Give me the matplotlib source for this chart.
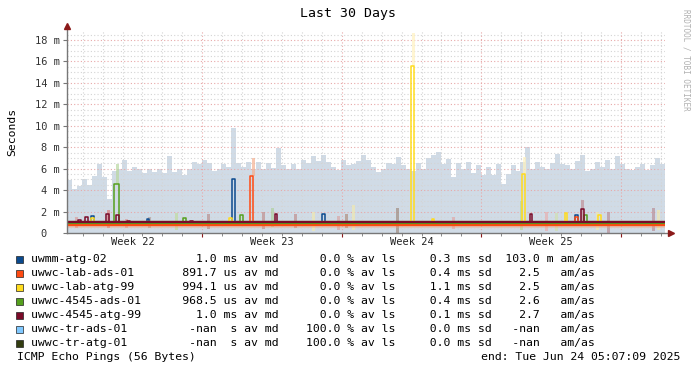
import numpy as np
import matplotlib.pyplot as plt
from matplotlib.patches import Rectangle

plt.rcParams['font.family'] = 'DejaVu Sans Mono'

# time axis: days since start (30 days ending Tue Jun 24 05:07:09 2025)
first_midnight = 0.786
week_starts = [6.786, 13.786, 20.786, 27.786]
week_centers = [3.286, 10.286, 17.286, 24.286]
week_labels = ['Week 22', 'Week 23', 'Week 24', 'Week 25']

# background smoke envelope in ms, 4 samples per day
envelope = [4.9, 4.1, 4.4, 5.0, 4.5, 5.3, 6.4, 5.2, 3.2, 5.8,
            6.0, 6.8, 5.8, 6.2, 6.0, 5.6, 6.0, 5.7, 6.0, 5.6,
            7.2, 5.7, 6.0, 5.4, 6.0, 6.6, 6.4, 6.8, 6.5, 5.8,
            6.0, 6.4, 6.2, 9.8, 6.5, 6.2, 6.6, 6.0, 6.6, 6.0,
            6.5, 6.1, 7.9, 6.3, 6.0, 6.4, 6.0, 6.8, 6.5, 7.2,
            6.7, 7.3, 6.6, 6.2, 5.9, 6.8, 6.3, 6.4, 6.7, 7.3,
            6.8, 6.2, 5.7, 6.0, 6.5, 6.4, 7.1, 6.3, 6.0, 5.8,
            6.5, 6.0, 7.0, 7.3, 7.6, 6.4, 6.9, 5.2, 6.5, 6.0,
            6.6, 5.6, 6.3, 5.4, 6.2, 5.4, 6.4, 4.6, 5.5, 6.3,
            5.8, 6.6, 8.0, 6.0, 6.6, 6.2, 6.0, 6.5, 7.4, 6.4,
            6.3, 6.0, 6.7, 7.3, 5.8, 6.0, 6.6, 6.2, 6.8, 6.0,
            7.2, 6.4, 6.0, 5.9, 6.2, 6.4, 5.9, 6.3, 7.0, 6.4]

hosts = ['uwmm-atg-02', 'uwwc-lab-ads-01', 'uwwc-lab-atg-99', 'uwwc-4545-ads-01',
         'uwwc-4545-atg-99', 'uwwc-tr-ads-01', 'uwwc-tr-atg-01']
colors = ['#0b4a8e', '#ff4a12', '#ffdc1e', '#55a01e', '#7a0a28', '#80c8ff', '#333d10']
base_ms = [1.02, 0.86, 0.98, 0.95, 1.05, None, None]
avg = ['1.0', '891.7', '994.1', '968.5', '1.0', '-nan', '-nan']
avg_unit = ['ms', 'us', 'us', 'us', 'ms', ' s', ' s']
loss = ['0.0', '0.0', '0.0', '0.0', '0.0', '100.0', '100.0']
sd = ['0.3', '0.4', '1.1', '0.4', '0.1', '0.0', '0.0']
amas = ['103.0', '2.5', '2.5', '2.6', '2.7', '-nan', '-nan']
amas_unit = ['m', ' ', ' ', ' ', ' ', ' ', ' ']

# median spikes per host: (day, width, ms)
spikes = [
    [(1.22, 0.15, 1.6), (4.0, 0.12, 1.3), (8.26, 0.16, 5.0), (12.8, 0.12, 1.75), (25.5, 0.15, 1.65)],
    [(9.16, 0.17, 5.35), (25.49, 0.15, 1.5)],
    [(1.22, 0.15, 1.4), (8.15, 0.15, 1.4), (17.25, 0.17, 15.6), (18.3, 0.12, 1.3),
     (22.81, 0.17, 5.5), (24.98, 0.12, 1.9), (26.62, 0.15, 1.7)],
    [(2.36, 0.24, 4.6), (5.82, 0.15, 1.4), (8.66, 0.15, 1.7), (25.95, 0.15, 1.7)],
    [(0.55, 0.15, 1.25), (0.9, 0.15, 1.5), (1.96, 0.15, 1.75), (2.46, 0.15, 1.7),
     (3.0, 0.15, 1.15), (6.17, 0.15, 1.1), (10.44, 0.12, 1.8), (23.23, 0.12, 1.8), (25.78, 0.17, 2.2)],
    [], [],
]

# translucent smoke strips: (day, lo ms, hi ms, colour)
strips = [(0.4, 0.5, 1.5, '#d8a0a0'), (2.0, 0.5, 2.1, '#d98080'), (2.45, 4.6, 6.4, '#b8d8a0'),
          (2.9, 0.5, 1.3, '#d8a0a0'), (4.06, 0.5, 1.5, '#b0a0a0'), (5.4, 0.3, 1.9, '#c0dca0'),
          (7.0, 0.4, 1.8, '#b89090'), (9.28, 5.3, 7.0, '#f4b090'), (9.8, 0.4, 2.0, '#c09090'),
          (10.24, 0.6, 2.3, '#b0d0a0'), (11.4, 0.5, 1.8, '#c09090'), (12.3, 0.2, 2.0, '#f0e8b0'),
          (13.55, 0.3, 1.6, '#d8a8a8'), (13.95, 0.5, 1.8, '#b09080'), (14.3, 0.3, 2.6, '#f0e8b0'),
          (16.5, 0.0, 2.3, '#a08c80'), (17.3, 15.6, 18.7, '#fff2c0'), (19.3, 0.4, 1.5, '#e0a8a8'),
          (22.73, 0.3, 3.0, '#b8d8a0'), (22.9, 5.5, 7.1, '#fff2c0'), (23.98, 0.2, 2.0, '#e8b0b0'),
          (24.5, 0.2, 1.9, '#d0e0b0'), (25.8, 1.0, 3.1, '#c09098'), (26.54, 0.3, 2.0, '#f0e8b0'),
          (27.1, 0.0, 2.0, '#b89098'), (29.35, 0.2, 2.3, '#b89098'), (29.6, 0.3, 2.1, '#f0e8b0')]

fig = plt.figure(figsize=(6.97, 3.71), dpi=100)
ax = fig.add_axes([67 / 697, 138 / 371, 598 / 697, 204 / 371])
ax.set_xlim(0, 30)
ax.set_ylim(0, 19.03)
for s in ax.spines.values():
    s.set_visible(False)

# smoke envelope
ax.bar(np.arange(len(envelope)) * 0.25, envelope, width=0.25, align='edge',
       color='#d0dbe6', linewidth=0, zorder=1)

# grid
for v in np.arange(0.5, 18.6, 0.5):
    major = abs(v % 2) < 1e-6
    ax.axhline(v, color='#e8a8a8' if major else '#d4d4d4', lw=0.8,
               ls=(0, (1, 2)), zorder=2)
for k in range(30):
    d = first_midnight + k
    major = any(abs(d - w) < 1e-6 for w in week_starts)
    ax.plot([d, d], [0, 18.9], color='#e8a8a8' if major else '#d4d4d4', lw=0.8,
            ls=(0, (1, 2)), zorder=2)

# smoke around the medians
for d, lo, hi, c in strips:
    ax.bar(d, hi - lo, bottom=lo, width=0.15, align='edge', color=c, alpha=0.7,
           linewidth=0, zorder=3)
ax.fill_between([0, 30], 0.45, 0.8, color='#f0a070', alpha=0.35, lw=0, zorder=3)

# median lines: thin steps for spikes, thicker baseline
for i, base in enumerate(base_ms):
    if base is None:
        continue
    xs, ys = [0.0], [base]
    for d, w, h in sorted(spikes[i]):
        xs += [d, d + w]
        ys += [h, base]
    xs.append(30.0)
    ys.append(base)
    ax.step(xs, ys, where='post', color=colors[i], lw=1.1, zorder=4 + i)
    ax.plot([0, 30], [base, base], color=colors[i], lw=2.4 if i == 1 else 1.6, zorder=4 + i)

# axes lines and arrows
ax.plot([0, 30.25], [0, 0], color='#777777', lw=1.0, clip_on=False, zorder=12)
ax.plot([0, 0], [0, 19.2], color='#777777', lw=1.0, clip_on=False, zorder=12)
ax.plot([30.3], [0], marker='>', color='#8b1a1a', ms=5, clip_on=False, zorder=13)
ax.plot([0], [19.35], marker='^', color='#8b1a1a', ms=5, clip_on=False, zorder=13)

# ticks
yt = np.arange(0, 19, 2)
ax.set_yticks(yt)
ax.set_yticklabels(['0  '] + [f'{v} m' for v in yt[1:]], fontsize=7.5, color='#333333')
ax.tick_params(axis='y', length=3, width=0.8, color='#777777', pad=2)
ax.set_xticks(week_starts)
ax.set_xticklabels([])
ax.set_xticks([first_midnight + k for k in range(30)], minor=True)
ax.tick_params(axis='x', which='major', length=3, width=0.8, color='#8b1a1a')
ax.tick_params(axis='x', which='minor', length=2, width=0.6, color='#777777')
for c, lab in zip(week_centers, week_labels):
    ax.text(c, -0.044, lab, transform=ax.get_xaxis_transform(), ha='center',
            va='center', fontsize=7.5, color='#222222')

fig.text(348 / 697, 1 - 14 / 371, 'Last 30 Days', ha='center', va='center', fontsize=9.5)
fig.text(12 / 697, 1 - 132 / 371, 'Seconds', rotation=90, ha='center', va='center', fontsize=8.2)
fig.text(686 / 697, 1 - 60 / 371, 'RRDTOOL / TOBI OETIKER', rotation=270, ha='center',
         va='center', fontsize=5.5, color='#b0b0b0')

# legend
for i, h in enumerate(hosts):
    y = 259.3 + i * 14
    fig.add_artist(Rectangle((15.5 / 697, 1 - (y + 3.5) / 371), 7 / 697, 7 / 371,
                             transform=fig.transFigure, facecolor=colors[i],
                             edgecolor='#222222', lw=0.5))
    line = (f'{h:<22}{avg[i]:>5} {avg_unit[i]:>2} av md{loss[i]:>9} % av ls'
            f'{sd[i]:>8} ms sd{amas[i]:>7} {amas_unit[i]} am/as')
    fig.text(31 / 697, 1 - y / 371, line, ha='left', va='center', fontsize=8.25)
fig.text(17 / 697, 1 - 357.5 / 371, 'ICMP Echo Pings (56 Bytes)', ha='left', va='center',
         fontsize=8.25)
fig.text(680 / 697, 1 - 357.5 / 371, 'end: Tue Jun 24 05:07:09 2025', ha='right',
         va='center', fontsize=8.25)

fig.savefig('out.png', dpi=100)
